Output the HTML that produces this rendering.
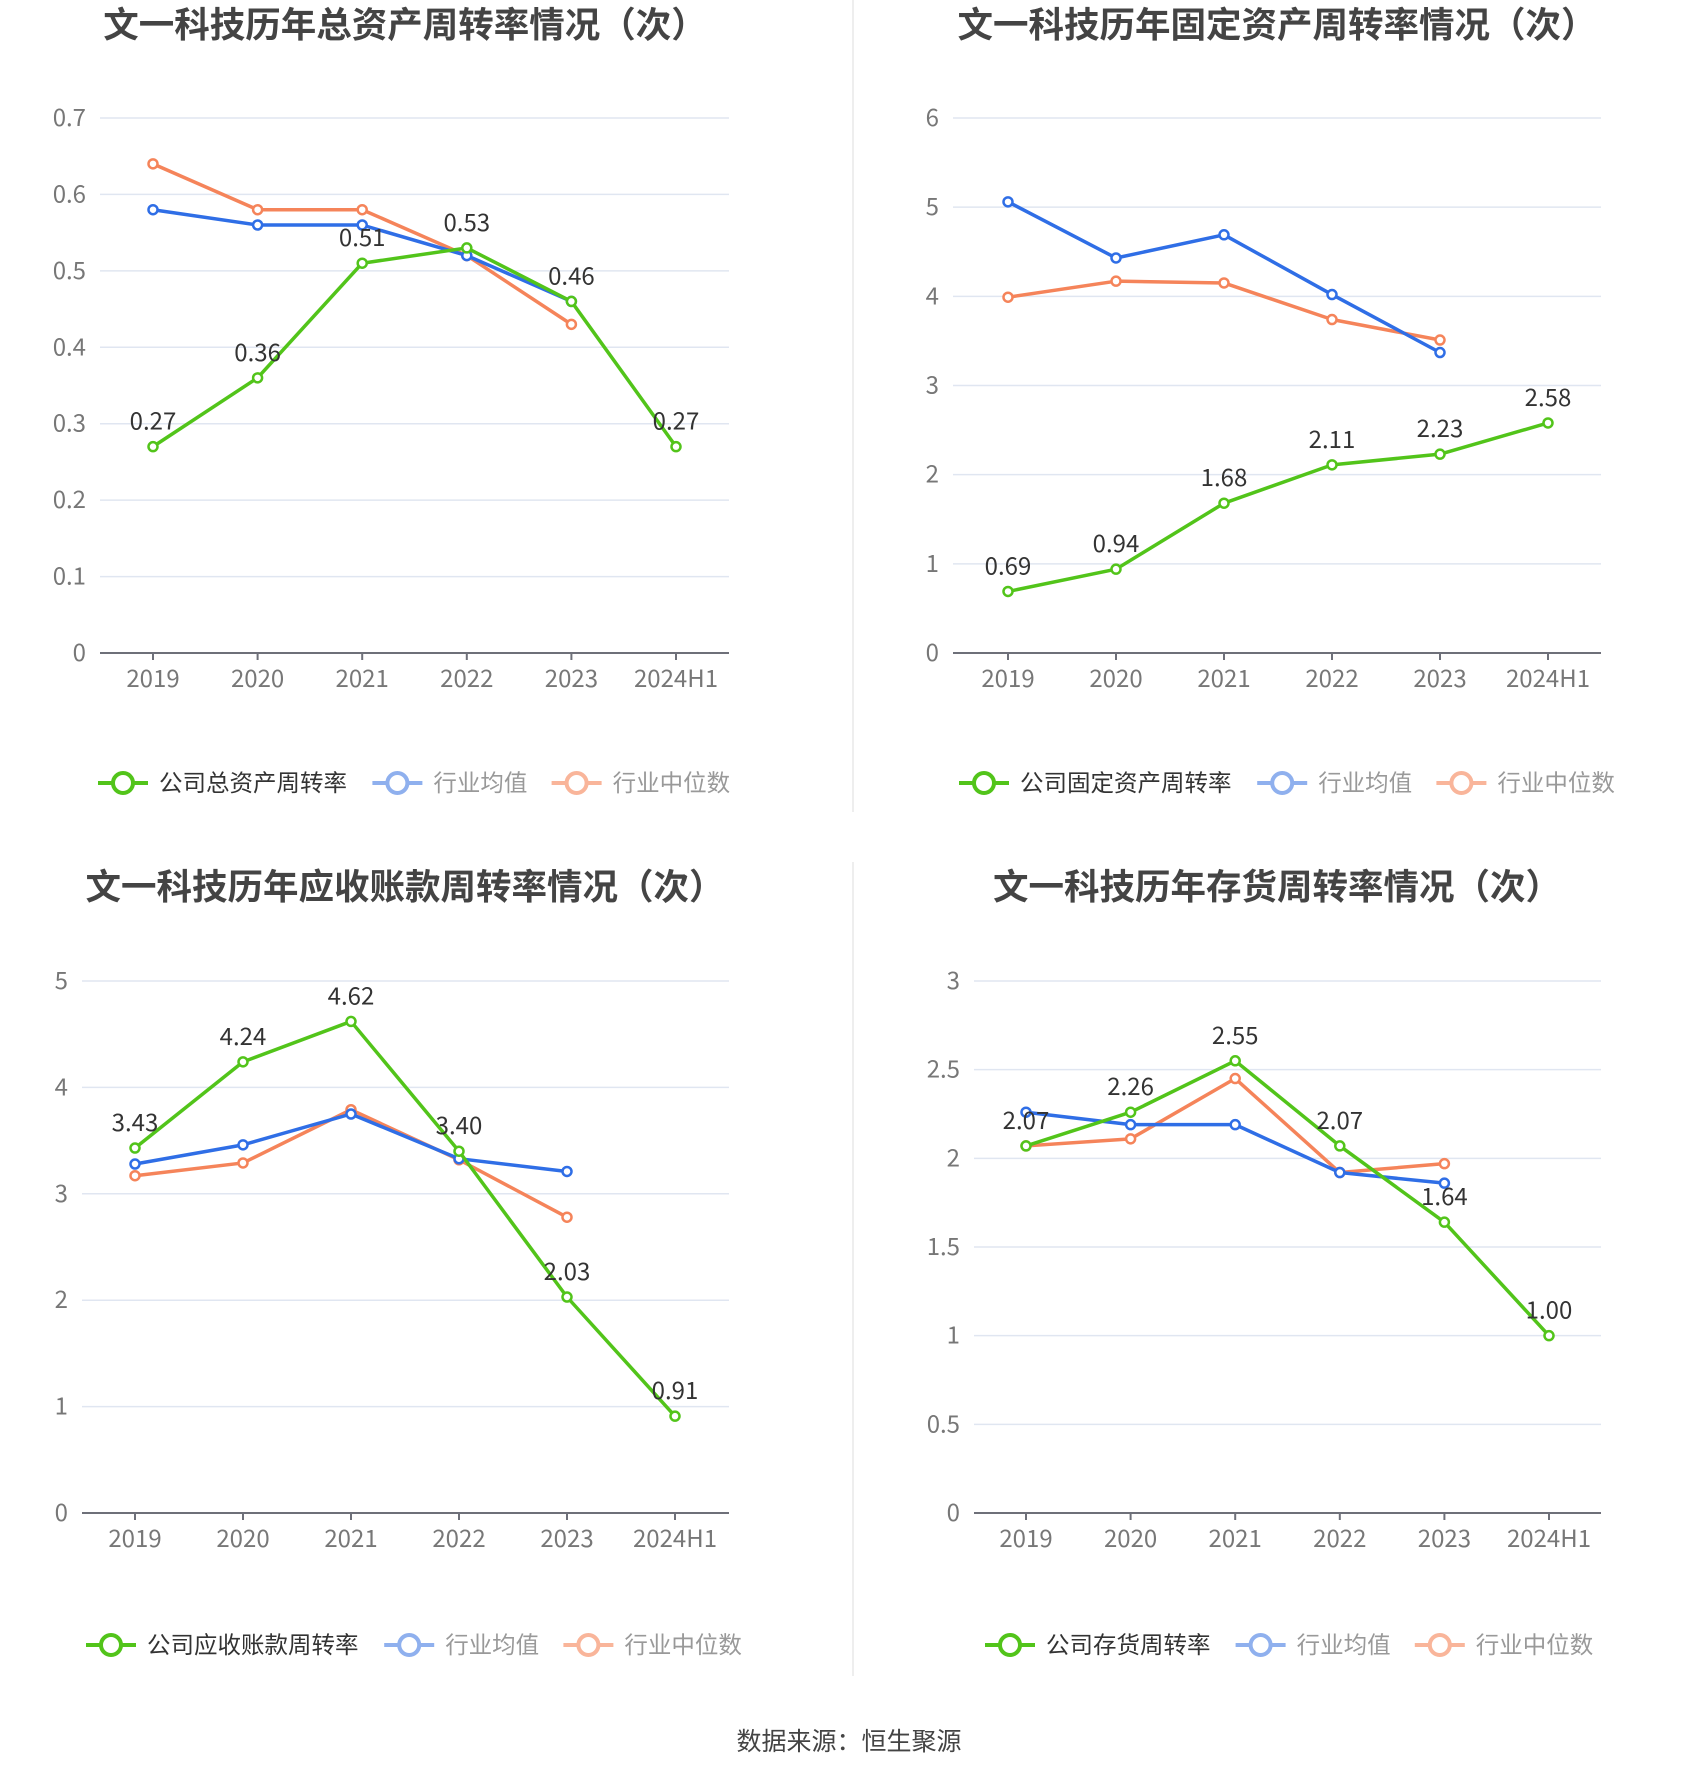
<!DOCTYPE html>
<html><head><meta charset="utf-8">
<style>
html,body{margin:0;padding:0;background:#fff;}
body{width:1700px;height:1782px;position:relative;overflow:hidden;font-family:"Noto Sans CJK SC",sans-serif;}
svg{position:absolute;left:0;top:0;}
</style></head>
<body>
<svg id="main" width="1700" height="1782" xmlns="http://www.w3.org/2000/svg">
<line x1="853" y1="0" x2="853" y2="812" stroke="#eeeeee" stroke-width="2"/>
<line x1="853" y1="862" x2="853" y2="1676" stroke="#eeeeee" stroke-width="2"/>
<text x="849" y="1750" text-anchor="middle" font-size="25" fill="#444" font-family="Noto Sans CJK SC, sans-serif">数据来源：恒生聚源</text>
</svg>
<script>
const categories = ["2019","2020","2021","2022","2023","2024H1"];

const c1Title = "文一科技历年总资产周转率情况（次）";
const c1Legend = ["公司总资产周转率","行业均值","行业中位数"];
const c1Company = [0.27,0.36,0.51,0.53,0.46,0.27];
const c1Avg = [0.58,0.56,0.56,0.52,0.46];
const c1Median = [0.64,0.58,0.58,0.52,0.43];
const c1Ticks = ["0","0.1","0.2","0.3","0.4","0.5","0.6","0.7"];

const c2Title = "文一科技历年固定资产周转率情况（次）";
const c2Legend = ["公司固定资产周转率","行业均值","行业中位数"];
const c2Company = [0.69,0.94,1.68,2.11,2.23,2.58];
const c2Avg = [5.06,4.43,4.69,4.02,3.37];
const c2Median = [3.99,4.17,4.15,3.74,3.51];
const c2Ticks = ["0","1","2","3","4","5","6"];

const c3Title = "文一科技历年应收账款周转率情况（次）";
const c3Legend = ["公司应收账款周转率","行业均值","行业中位数"];
const c3Company = [3.43,4.24,4.62,3.40,2.03,0.91];
const c3Avg = [3.28,3.46,3.75,3.33,3.21];
const c3Median = [3.17,3.29,3.79,3.32,2.78];
const c3Ticks = ["0","1","2","3","4","5"];

const c4Title = "文一科技历年存货周转率情况（次）";
const c4Legend = ["公司存货周转率","行业均值","行业中位数"];
const c4Company = [2.07,2.26,2.55,2.07,1.64,1.00];
const c4Avg = [2.26,2.19,2.19,1.92,1.86];
const c4Median = [2.07,2.11,2.45,1.92,1.97];
const c4Ticks = ["0","0.5","1","1.5","2","2.5","3"];

const NS="http://www.w3.org/2000/svg";
const svg=document.getElementById('main');
const FONT='Noto Sans CJK SC, sans-serif';
function mk(tag,attrs,parent){const e=document.createElementNS(NS,tag);for(const k in attrs)e.setAttribute(k,attrs[k]);(parent||svg).appendChild(e);return e;}

const GREEN="#52c41a",BLUE="#2f6ee6",ORANGE="#f5845a";

function drawChart(id,cfg,title,legend,company,avg,median,ticks){
  const g=mk('g',{});
  
  
  const maxV=parseFloat(ticks[ticks.length-1]);
  const y=v=>cfg.y0-(v/maxV)*(cfg.y0-cfg.yTop);
  const x=i=>cfg.x0+i*(cfg.x1-cfg.x0)/(categories.length-1);
  const t=mk('text',{x:cfg.tx,y:cfg.ty,'text-anchor':'middle','font-size':35.5,'font-weight':'bold',fill:'#444','font-family':FONT},g);
  t.textContent=title;
  
  
  ticks.forEach(tk=>{
    const v=parseFloat(tk),yy=y(v);
    if(v>0){const l=mk('line',{x1:cfg.gl,x2:cfg.gr,y1:yy,y2:yy,stroke:'#e0e6f1','stroke-width':1.5},g);
      
      }
    const tt=mk('text',{x:cfg.gl-14,y:yy+8,'text-anchor':'end','font-size':24,fill:'#777','font-family':FONT},g);
    tt.textContent=tk;
    
    
  });
  const ax=mk('line',{x1:cfg.gl,x2:cfg.gr,y1:cfg.y0,y2:cfg.y0,stroke:'#6e7079','stroke-width':2},g);
  
  
  categories.forEach((c,i)=>{
    const tk=mk('line',{x1:x(i),x2:x(i),y1:cfg.y0,y2:cfg.y0+7,stroke:'#6e7079','stroke-width':2},g);
    
    
    const tt=mk('text',{x:x(i),y:cfg.y0+34,'text-anchor':'middle','font-size':24,fill:'#777','font-family':FONT},g);
    tt.textContent=c;
    
    
  });
  function series(data,color,name){
    const pts=data.map((v,i)=>x(i)+','+y(v)).join(' ');
    const pl=mk('polyline',{points:pts,fill:'none',stroke:color,'stroke-width':3.5,'stroke-linejoin':'round'},g);
    
    
    data.forEach((v,i)=>{
      const c=mk('circle',{cx:x(i),cy:y(v),r:4.5,fill:'#fff',stroke:color,'stroke-width':2.5},g);
      
      
    });
  }
  series(median,ORANGE,'median');
  series(avg,BLUE,'average');
  series(company,GREEN,'company');
  company.forEach((v,i)=>{
    const lt=mk('text',{x:x(i),y:y(v)-17,'text-anchor':'middle','font-size':24,fill:'#333','font-family':FONT},g);
    lt.textContent=v.toFixed(2);
    
    
  });
  const cols=[GREEN,"#8fb0ee","#f9b59a"];
  const tcols=["#333","#999","#999"];
  let lx=cfg.lx;
  legend.forEach((name,k)=>{
    const lg=mk('g',{},g);
    
    
    mk('line',{x1:lx,x2:lx+50,y1:cfg.ly,y2:cfg.ly,stroke:cols[k],'stroke-width':4},lg);
    mk('circle',{cx:lx+25,cy:cfg.ly,r:10,fill:'#fff',stroke:cols[k],'stroke-width':4},lg);
    const lt=mk('text',{x:lx+61,y:cfg.ly+8,'font-size':23.5,fill:tcols[k],'font-family':FONT},lg);
    lt.textContent=name;
    lx+=61+name.length*23.8+23;
  });
}
drawChart('total-asset-turnover-chart',{x0:153,x1:676,y0:653,yTop:118,gl:100,gr:729,tx:405,ty:37,lx:98,ly:783},c1Title,c1Legend,c1Company,c1Avg,c1Median,c1Ticks);
drawChart('fixed-asset-turnover-chart',{x0:1008,x1:1548,y0:653,yTop:118,gl:953,gr:1601,tx:1277,ty:37,lx:959,ly:783},c2Title,c2Legend,c2Company,c2Avg,c2Median,c2Ticks);
drawChart('receivables-turnover-chart',{x0:135,x1:675,y0:1513,yTop:981,gl:82,gr:729,tx:405,ty:899,lx:86,ly:1645},c3Title,c3Legend,c3Company,c3Avg,c3Median,c3Ticks);
drawChart('inventory-turnover-chart',{x0:1026,x1:1549,y0:1513,yTop:981,gl:974,gr:1601,tx:1277,ty:899,lx:985,ly:1645},c4Title,c4Legend,c4Company,c4Avg,c4Median,c4Ticks);
</script>
</body></html>
